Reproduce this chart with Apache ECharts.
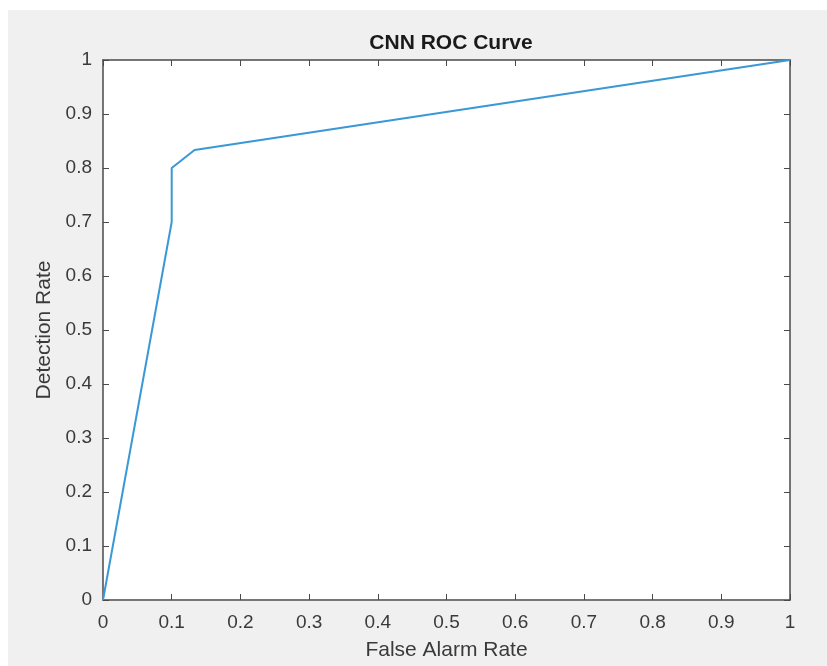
<!DOCTYPE html>
<html>
<head>
<meta charset="utf-8">
<script src="https://cdn.jsdelivr.net/npm/echarts@6/dist/echarts.min.js"></script>
<style>
  html, body { margin: 0; padding: 0; background: #ffffff; }
  #bg { position: absolute; left: 8px; top: 10px; width: 819px; height: 656px; background: #f0f0f0; }
  #chart { position: absolute; left: 0; top: 0; width: 827px; height: 666px; }
</style>
</head>
<body>
<div id="bg"></div>
<div id="chart"></div>
<script>
  // ROC points
  var falseAlarm = [0, 0.1, 0.1, 0.1333, 1];
  var detection = [0, 0.7, 0.8, 0.8333, 1];
  var tickStep = 0.1;

  var points = falseAlarm.map(function (x, i) { return [x, detection[i]]; });

  var axisColor = '#4a4a4a';
  var textColor = '#3a3a3a';
  var font = 'Liberation Sans, Arial, sans-serif';

  function fmt(v) { return String(Math.round(v * 10) / 10); }

  var chart = echarts.init(document.getElementById('chart'));
  chart.setOption({
    backgroundColor: 'transparent',
    animation: false,
    title: {
      text: 'CNN ROC Curve',
      left: 446,
      top: 28,
      textAlign: 'center',
      textStyle: { fontFamily: font, fontSize: 21, fontWeight: 'bold', color: '#1a1a1a' }
    },
    grid: { left: 103, right: 37, top: 60, bottom: 65 },
    xAxis: [{
      type: 'value', min: 0, max: 1, interval: tickStep, position: 'bottom',
      name: 'False Alarm Rate', nameLocation: 'middle', nameGap: 40,
      nameTextStyle: { fontFamily: font, fontSize: 21, color: textColor },
      axisLine: { show: true, onZero: false, lineStyle: { color: axisColor, width: 1.5 } },
      axisTick: { show: true, inside: true, length: 6, lineStyle: { color: axisColor } },
      axisLabel: { fontFamily: font, fontSize: 19, color: textColor, margin: 13, formatter: fmt },
      splitLine: { show: false }
    }, {
      type: 'value', min: 0, max: 1, interval: tickStep, position: 'top',
      axisLine: { show: true, onZero: false, lineStyle: { color: axisColor, width: 1.5 } },
      axisTick: { show: true, inside: true, length: 6, lineStyle: { color: axisColor } },
      axisLabel: { show: false },
      splitLine: { show: false }
    }],
    yAxis: [{
      type: 'value', min: 0, max: 1, interval: tickStep, position: 'left',
      name: 'Detection Rate', nameLocation: 'middle', nameGap: 47, nameRotate: 90,
      nameTextStyle: { fontFamily: font, fontSize: 21, color: textColor },
      axisLine: { show: true, onZero: false, lineStyle: { color: axisColor, width: 1.5 } },
      axisTick: { show: true, inside: true, length: 6, lineStyle: { color: axisColor } },
      axisLabel: { fontFamily: font, fontSize: 19, color: textColor, margin: 11, formatter: fmt },
      splitLine: { show: false }
    }, {
      type: 'value', min: 0, max: 1, interval: tickStep, position: 'right',
      axisLine: { show: true, onZero: false, lineStyle: { color: axisColor, width: 1.5 } },
      axisTick: { show: true, inside: true, length: 6, lineStyle: { color: axisColor } },
      axisLabel: { show: false },
      splitLine: { show: false }
    }],
    graphic: [{
      type: 'rect', z: -10, silent: true,
      shape: { x: 103, y: 60, width: 687, height: 541 },
      style: { fill: '#ffffff' }
    }],
    series: [{
      type: 'line',
      data: points,
      symbol: 'none',
      clip: false,
      lineStyle: { color: '#3a98d6', width: 2 }
    }]
  });
</script>
</body>
</html>
